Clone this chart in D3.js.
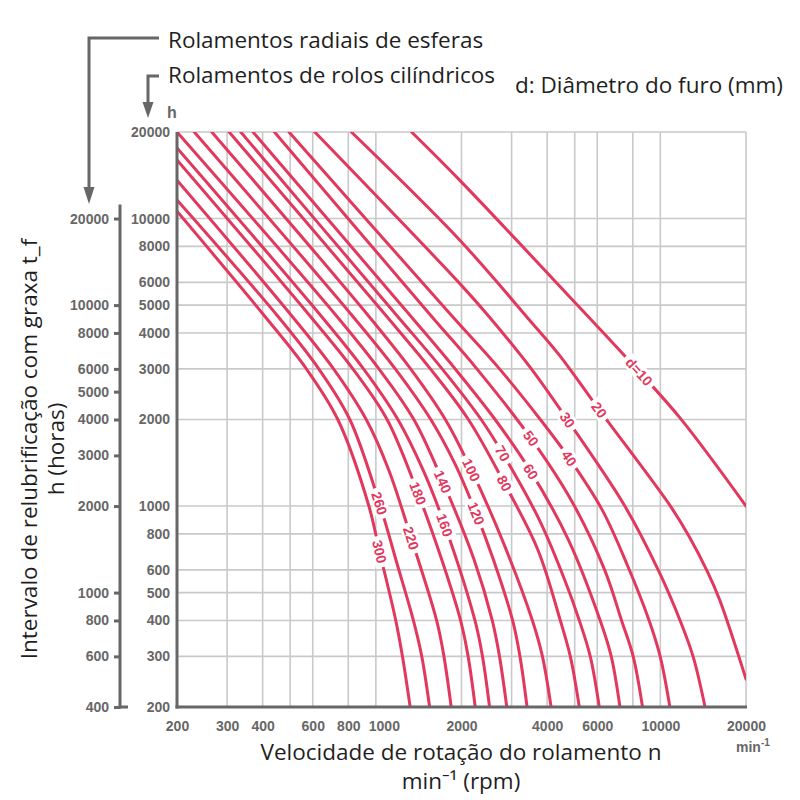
<!DOCTYPE html>
<html>
<head>
<meta charset="utf-8">
<script src="https://cdn.jsdelivr.net/npm/d3@7"></script>
<style>
  body { margin: 0; background: #fff; }
</style>
</head>
<body>
<script>
// curves: [rotation speed n (min^-1), interval h], one array per bore diameter
const d300 = [[200,10600],[405,4600],[570,3000],[735,2000],[945,1000],[1030,695],[1175,400],[1240,300],[1320,200]];
const d260 = [[200,11600],[450,4600],[630,3000],[810,2000],[1030,1020],[1190,625],[1355,400],[1450,300],[1545,200]];
const d220 = [[200,13600],[505,4600],[710,3000],[925,2000],[1110,1335],[1330,775],[1635,400],[1735,300],[1840,200]];
const d180 = [[200,16000],[585,4600],[830,3000],[1095,2000],[1405,1110],[1705,650],[1985,400],[2110,300],[2235,200]];
const d160 = [[200,17600],[640,4600],[905,3000],[1195,2000],[1465,1335],[1745,860],[2230,400],[2370,300],[2510,200]];
const d140 = [[200,20000],[725,4600],[1025,3000],[1360,2000],[1720,1215],[2215,650],[2565,400],[2720,300],[2885,200]];
const d120 = [[230,20000],[825,4600],[1170,3000],[1560,2000],[1905,1390],[2250,945],[2590,650],[3025,400],[3210,300],[3400,200]];
const d100 = [[265,20000],[940,4600],[1325,3000],[1755,2000],[2165,1335],[2785,760],[3550,400],[3850,300],[4130,200]];
const d80  = [[305,20000],[1085,4600],[1555,3000],[2115,2000],[2830,1200],[3710,705],[4450,400],[4825,300],[5190,200]];
const d70  = [[335,20000],[1185,4600],[1710,3000],[2345,2000],[2790,1525],[3755,895],[4605,555],[5190,400],[5670,300],[6100,200]];
const d60  = [[370,20000],[1320,4600],[1900,3000],[2625,2000],[3510,1315],[4760,760],[6145,400],[6720,300],[7210,200]];
const d50  = [[440,20000],[1560,4600],[2265,3000],[3510,1720],[4855,1050],[6370,600],[7305,400],[8025,300],[8655,200]];
const d40  = [[495,20000],[1845,4600],[2720,3000],[3785,2000],[4785,1465],[6245,970],[7645,625],[9130,400],[9985,300],[10800,200]];
const d30  = [[610,20000],[1970,5950],[2480,4600],[3520,3000],[4720,1990],[7500,1000],[9900,590],[11730,400],[13030,300],[14360,200]];
const d20  = [[820,20000],[1970,8420],[3465,4440],[4415,3350],[6100,2160],[10880,995],[12610,785],[14650,590],[16180,470],[20000,250]];
const d10  = [[1335,20000],[1970,13600],[4915,5210],[8200,3020],[11800,2010],[20000,1000]];

const diameters = [300,260,220,180,160,140,120,100,80,70,60,50,40,30,20,10];
const curveLabels = ["300","260","220","180","160","140","120","100","80","70","60","50","40","30","20","d=10"];
// h value where each inline label sits on its curve
const labelH = [694,1022,773,1108,859,1215,943,1335,1200,1525,1317,1720,1466,1992,2160,2934];

const xGrid = [200,300,400,500,600,800,1000,2000,3000,4000,5000,6000,8000,10000,20000];
const xTickLabels = [200,300,400,600,800,1000,2000,4000,6000,10000,20000];
const yTicks = [200,300,400,500,600,800,1000,2000,3000,4000,5000,6000,8000,10000,20000];
const outerTicks = [400,600,800,1000,2000,3000,4000,5000,6000,8000,10000,20000];

const seriesData = [d300,d260,d220,d180,d160,d140,d120,d100,d80,d70,d60,d50,d40,d30,d20,d10];
const curves = diameters.map((d, i) => ({ d: d, pts: seriesData[i], text: curveLabels[i], h: labelH[i] }));

const W = 800, H = 800;
const red = "#e2385e";
const axisGrey = "#676767";
const gridGrey = "#c9c9c9";
const tickFont = "'Liberation Sans', Arial, sans-serif";

const svg = d3.select("body").append("svg")
  .attr("width", W).attr("height", H)
  .style("font-family", "'Open Sans', 'Noto Sans', sans-serif");

const x = d3.scaleLog().domain([200, 20000]).range([177, 746]);
const y = d3.scaleLog().domain([200, 20000]).range([707, 132]);
const yOuter = d3.scaleLog().domain([400, 40000]).range([707, 132]);

// grid
const grid = svg.append("g").attr("stroke", gridGrey).attr("stroke-width", 1.6);
grid.selectAll(".vx").data(xGrid).join("line")
  .attr("x1", d => x(d)).attr("x2", d => x(d))
  .attr("y1", y(20000)).attr("y2", y(200));
grid.selectAll(".hy").data(yTicks).join("line")
  .attr("x1", x(200)).attr("x2", x(20000))
  .attr("y1", d => y(d)).attr("y2", d => y(d));

// curves
svg.append("clipPath").attr("id", "plotclip")
  .append("rect").attr("x", x(200)).attr("y", y(20000))
  .attr("width", x(20000) - x(200)).attr("height", y(200) - y(20000));

const line = d3.line()
  .x(d => x(d[0]))
  .y(d => y(d[1]))
  .curve(d3.curveCatmullRom.alpha(0.5));

const plot = svg.append("g").attr("clip-path", "url(#plotclip)");
const labels = svg.append("g");

curves.forEach(c => {
  const path = plot.append("path")
    .datum(c.pts)
    .attr("d", line)
    .attr("fill", "none")
    .attr("stroke", red)
    .attr("stroke-width", 3)
    .attr("stroke-linecap", "round");

  // find the point on the curve at the label's h
  const node = path.node();
  const len = node.getTotalLength();
  const ty = y(c.h);
  let lo = 0, hi = len;
  for (let i = 0; i < 40; i++) {
    const mid = (lo + hi) / 2;
    if (node.getPointAtLength(mid).y < ty) lo = mid; else hi = mid;
  }
  const p = node.getPointAtLength(lo);
  const p1 = node.getPointAtLength(Math.max(0, lo - 5));
  const p2 = node.getPointAtLength(Math.min(len, lo + 5));
  const ang = Math.atan2(p2.y - p1.y, p2.x - p1.x) * 180 / Math.PI;

  const g = labels.append("g").attr("transform", `translate(${p.x},${p.y}) rotate(${ang})`);
  const t = g.append("text")
    .text(c.text)
    .attr("text-anchor", "middle")
    .attr("dy", "0.36em")
    .attr("fill", red)
    .style("font-family", tickFont)
    .style("font-size", "14px")
    .style("font-weight", "bold");
  const w = t.node().getComputedTextLength();
  g.insert("rect", "text")
    .attr("x", -w / 2 - 4).attr("y", -7.5)
    .attr("width", w + 8).attr("height", 15)
    .attr("fill", "#fff");
});

// plot frame
svg.append("line")
  .attr("x1", x(200)).attr("x2", x(200))
  .attr("y1", y(20000)).attr("y2", y(200) + 1.5)
  .attr("stroke", axisGrey).attr("stroke-width", 3);
svg.append("line")
  .attr("x1", x(200) - 1.5).attr("x2", x(20000) + 1)
  .attr("y1", y(200)).attr("y2", y(200))
  .attr("stroke", axisGrey).attr("stroke-width", 3);

// axes
const xAxis = d3.axisBottom(x).tickValues(xTickLabels).tickFormat(d3.format("d")).tickSize(0).tickPadding(14);
svg.append("g")
  .attr("transform", `translate(0,${y(200)})`)
  .call(xAxis)
  .call(g => g.select(".domain").remove())
  .call(g => g.selectAll("text")
    .attr("fill", axisGrey)
    .style("font-family", tickFont)
    .style("font-size", "14px")
    .style("font-weight", "bold"))
  .call(g => g.selectAll(".tick").filter(d => d === 1000).select("text").attr("dx", 8));

const yAxis = d3.axisLeft(y).tickValues(yTicks).tickFormat(d3.format("d")).tickSize(0).tickPadding(7);
svg.append("g")
  .attr("transform", `translate(${x(200)},0)`)
  .call(yAxis)
  .call(g => g.select(".domain").remove())
  .call(g => g.selectAll("text")
    .attr("fill", axisGrey)
    .style("font-family", tickFont)
    .style("font-size", "14px")
    .style("font-weight", "bold"));

const outerAxis = d3.axisLeft(yOuter).tickValues(outerTicks).tickFormat(d3.format("d")).tickSize(6).tickPadding(5);
svg.append("g")
  .attr("transform", "translate(120,0)")
  .call(outerAxis)
  .call(g => g.select(".domain").remove())
  .call(g => g.selectAll("line").attr("stroke", axisGrey).attr("stroke-width", 3))
  .call(g => g.selectAll("text")
    .attr("fill", axisGrey)
    .style("font-family", tickFont)
    .style("font-size", "14px")
    .style("font-weight", "bold"));
svg.append("line")
  .attr("x1", 120).attr("x2", 120)
  .attr("y1", yOuter(20000) - 14).attr("y2", yOuter(400) + 1.5)
  .attr("stroke", axisGrey).attr("stroke-width", 3);
svg.append("line")
  .attr("x1", 120).attr("x2", 128)
  .attr("y1", yOuter(400)).attr("y2", yOuter(400))
  .attr("stroke", axisGrey).attr("stroke-width", 3);

// unit marks
svg.append("text")
  .attr("x", 167).attr("y", 118)
  .attr("fill", axisGrey)
  .style("font-family", tickFont)
  .style("font-size", "16px")
  .style("font-weight", "bold")
  .text("h");
const minLbl = svg.append("text")
  .attr("x", 736).attr("y", 752)
  .attr("fill", axisGrey)
  .style("font-family", tickFont)
  .style("font-size", "14px")
  .style("font-weight", "bold")
  .text("min");
minLbl.append("tspan").attr("dy", -6).style("font-size", "10px").text("-1");

// bracket arrows to the two scales
const arrows = svg.append("g").attr("stroke", axisGrey).attr("stroke-width", 3).attr("fill", "none");
arrows.append("path").attr("d", "M159,38 H89 V190");
arrows.append("path").attr("d", "M159,76 H148 V104");
svg.append("path").attr("d", "M83.5,187 L94.5,187 L89,204 Z").attr("fill", axisGrey);
svg.append("path").attr("d", "M142.5,102 L153.5,102 L148,118 Z").attr("fill", axisGrey);

// titles
const titleColor = "#1f1f1f";
const titleSize = "22.5px";
svg.append("text").attr("x", 168).attr("y", 48)
  .attr("fill", titleColor).style("font-size", titleSize)
  .text("Rolamentos radiais de esferas");
svg.append("text").attr("x", 168).attr("y", 83)
  .attr("fill", titleColor).style("font-size", titleSize)
  .text("Rolamentos de rolos cilíndricos");
svg.append("text").attr("x", 783).attr("y", 93)
  .attr("text-anchor", "end")
  .attr("fill", titleColor).style("font-size", titleSize)
  .text("d: Diâmetro do furo (mm)");

svg.append("text").attr("x", 461).attr("y", 760)
  .attr("text-anchor", "middle")
  .attr("fill", titleColor).style("font-size", titleSize)
  .text("Velocidade de rotação do rolamento n");
svg.append("text").attr("x", 461).attr("y", 789)
  .attr("text-anchor", "middle")
  .attr("fill", titleColor).style("font-size", titleSize)
  .text("min⁻¹ (rpm)");

svg.append("text")
  .attr("transform", "translate(37,449) rotate(-90)")
  .attr("text-anchor", "middle")
  .attr("fill", titleColor).style("font-size", titleSize)
  .text("Intervalo de relubrificação com graxa t_f");
svg.append("text")
  .attr("transform", "translate(64,449) rotate(-90)")
  .attr("text-anchor", "middle")
  .attr("fill", titleColor).style("font-size", titleSize)
  .text("h (horas)");
</script>
</body>
</html>
